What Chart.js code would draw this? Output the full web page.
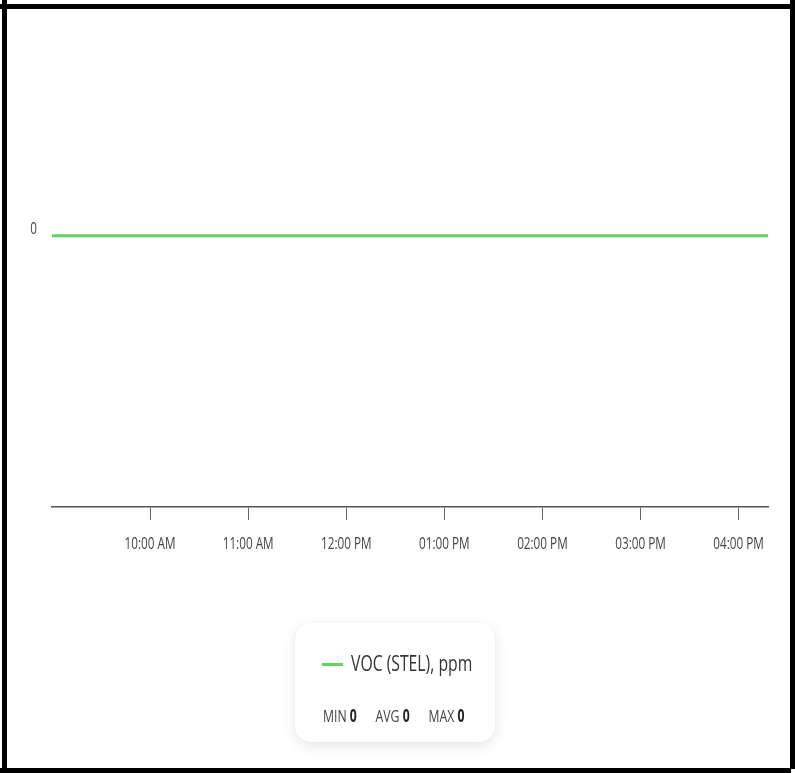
<!DOCTYPE html>
<html>
<head>
<meta charset="utf-8">
<script src="https://cdn.jsdelivr.net/npm/chart.js@4/dist/chart.umd.min.js"></script>
<style>
  html,body{margin:0;padding:0;background:#fff;width:795px;height:773px;overflow:hidden;}
  body{position:relative;font-family:"Open Sans","Noto Sans",sans-serif;}
  .bar{position:absolute;background:#000;}
  #wrap{position:absolute;left:0;top:0;width:795px;height:773px;}
  #legend{position:absolute;left:295px;top:623px;width:200px;height:119px;border-radius:16px;background:#fff;
    box-shadow:0 4px 14px rgba(0,0,0,0.10),0 0 2px rgba(0,0,0,0.06);box-sizing:border-box;}
  #legend .item{position:absolute;left:27px;top:28px;white-space:nowrap;line-height:24px;}
  #legend .swatch{display:inline-block;width:21px;height:3px;background:#60d360;vertical-align:middle;margin-right:8px;position:relative;top:-2px;}
  #legend .name{display:inline-block;font-size:21px;color:#333;transform:scaleX(0.75);transform-origin:left center;}
  #legend .stats{position:absolute;left:28px;top:83px;font-size:17px;color:#444;white-space:nowrap;line-height:20px;transform:scaleX(0.72);transform-origin:left center;}
  #legend .stats span{margin-right:26px;}
  #legend .stats b{color:#222;}
</style>
</head>
<body>
<div id="wrap"><canvas id="c" width="795" height="773"></canvas></div>
<div class="bar" style="left:0;top:4px;width:793px;height:5px;"></div>
<div class="bar" style="left:2px;top:0;width:5px;height:773px;"></div>
<div class="bar" style="left:790px;top:0;width:5px;height:769px;"></div>
<div class="bar" style="left:0;top:768px;width:791px;height:5px;"></div>
<div id="legend"></div>
<script>
// Data (time in hours of day)
const seriesName = "VOC (STEL), ppm";
const times = [9.0, 9.5, 10.0, 10.5, 11.0, 11.5, 12.0, 12.5, 13.0, 13.5, 14.0, 14.5, 15.0, 15.5, 16.0, 16.3];
const values = [0, 0, 0, 0, 0, 0, 0, 0, 0, 0, 0, 0, 0, 0, 0, 0];
const xTickValues = [10, 11, 12, 13, 14, 15, 16];
const xTickLabels = ["10:00 AM", "11:00 AM", "12:00 PM", "01:00 PM", "02:00 PM", "03:00 PM", "04:00 PM"];
const yTickValues = [0];
const stats = { MIN: 0, AVG: 0, MAX: 0 };

const green = '#60d360';
const font = '"Open Sans","Noto Sans",sans-serif';

document.getElementById('legend').innerHTML =
  '<div class="item"><span class="swatch"></span><span class="name">' + seriesName + '</span></div>' +
  '<div class="stats">' + Object.keys(stats).map(k => '<span>' + k + ' <b>' + stats[k] + '</b></span>').join('') + '</div>';

// condensed text rendering (horizontal squeeze around the anchor point)
const condensePlugin = {
  id: 'condense',
  beforeInit(chart) {
    const ctx = chart.ctx;
    const orig = ctx.fillText.bind(ctx);
    ctx.fillText = function (t, x, y, w) {
      ctx.save();
      ctx.translate(x, y);
      ctx.scale(0.69, 1);
      orig(t, 0, 0, w);
      ctx.restore();
    };
  }
};

new Chart(document.getElementById('c'), {
  type: 'line',
  plugins: [condensePlugin],
  data: {
    datasets: [{
      label: seriesName,
      data: times.map((t, i) => ({ x: t, y: values[i] })),
      borderColor: green,
      borderWidth: 3,
      pointRadius: 0,
      fill: false,
      tension: 0
    }]
  },
  options: {
    responsive: false,
    animation: false,
    layout: { padding: { left: 0, right: 27, top: 20, bottom: 216 } },
    plugins: { legend: { display: false }, tooltip: { enabled: false } },
    scales: {
      x: {
        type: 'linear',
        min: 9.0,
        max: 16.3,
        afterBuildTicks: s => { s.ticks = xTickValues.map(v => ({ value: v })); },
        afterFit: s => { s.height = 50; },
        ticks: {
          autoSkip: false,
          maxRotation: 0,
          padding: 14,
          color: '#444',
          font: { family: font, size: 17 },
          callback: (v) => { const i = xTickValues.indexOf(v); return i >= 0 ? xTickLabels[i] : ''; }
        },
        grid: { drawOnChartArea: false, drawTicks: true, tickLength: 13, color: '#666', lineWidth: 1 },
        border: { display: true, color: '#555', width: 1.5 }
      },
      y: {
        min: -1.287,
        max: 1,
        afterBuildTicks: s => { s.ticks = yTickValues.map(v => ({ value: v })); },
        afterFit: s => { s.width = 52; },
        ticks: {
          padding: 15,
          labelOffset: -7,
          color: '#444',
          font: { family: font, size: 17 }
        },
        grid: { display: false, drawTicks: false },
        border: { display: false }
      }
    }
  }
});
</script>
</body>
</html>
